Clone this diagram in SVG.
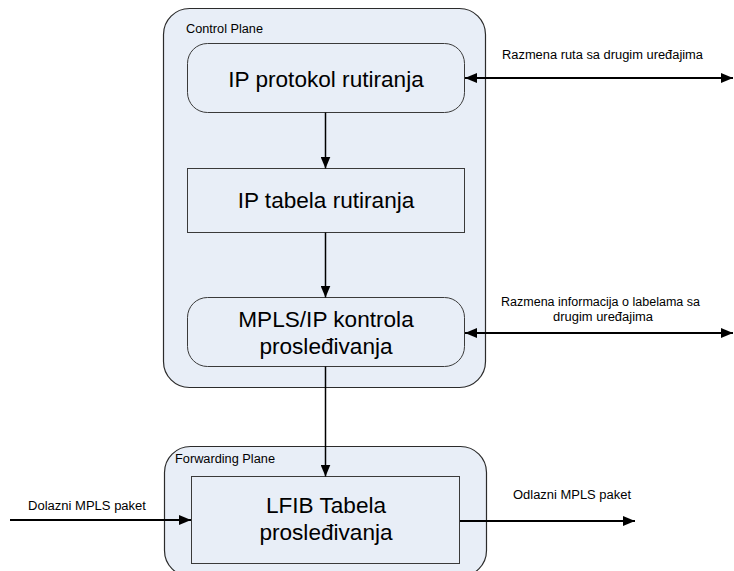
<svg xmlns="http://www.w3.org/2000/svg" width="734" height="571" viewBox="0 0 734 571">
  <defs>
    <style>
      .plane { fill: #e8eef7; stroke: #2b2b2b; stroke-width: 1.2; }
      .box { fill: #e8eef7; stroke: #3a3a3a; stroke-width: 1; }
      .big { font-family: "Liberation Sans", Arial, sans-serif; font-size: 22.6px; fill: #000; text-anchor: middle; }
      .small { font-family: "Liberation Sans", Arial, sans-serif; font-size: 12px; fill: #000; }
      .edge { fill: none; stroke: #000; stroke-width: 1.5; }
      .edge2 { fill: none; stroke: #000; stroke-width: 2; }
    </style>
    <marker id="arrow" viewBox="0 0 12 10" refX="12" refY="5" markerWidth="12" markerHeight="10" markerUnits="userSpaceOnUse" orient="auto-start-reverse">
      <path d="M0,0 L12,5 L0,10 Z" fill="#000"/>
    </marker>
  </defs>

  <!-- Control plane -->
  <g id="control-plane">
    <rect class="plane" x="163.5" y="8.5" width="322" height="379" rx="26" ry="26"/>
    <text class="small" x="186" y="33" textLength="77" lengthAdjust="spacingAndGlyphs">Control Plane</text>
  </g>

  <g id="ip-protokol">
    <rect class="box" x="187.5" y="43.5" width="277" height="69" rx="20" ry="20"/>
    <text class="big" x="326" y="87">IP protokol rutiranja</text>
  </g>

  <g id="ip-tabela">
    <rect class="box" x="187.5" y="168.5" width="277" height="64"/>
    <text class="big" x="326" y="208">IP tabela rutiranja</text>
  </g>

  <g id="mpls-ip">
    <rect class="box" x="187.5" y="297.5" width="277" height="69" rx="20" ry="20"/>
    <text class="big" x="326" y="327">MPLS/IP kontrola</text>
    <text class="big" x="326" y="354">prosleđivanja</text>
  </g>

  <!-- Forwarding plane -->
  <g id="forwarding-plane">
    <rect class="plane" x="164.5" y="446.5" width="322" height="130" rx="26" ry="26"/>
    <text class="small" x="175" y="463" textLength="100" lengthAdjust="spacingAndGlyphs">Forwarding Plane</text>
  </g>

  <g id="lfib">
    <rect class="box" x="191.5" y="476.5" width="268" height="87"/>
    <text class="big" x="326" y="513">LFIB Tabela</text>
    <text class="big" x="326" y="540">prosleđivanja</text>
  </g>

  <!-- Connectors -->
  <g id="connectors">
    <line class="edge" x1="325.5" y1="112.5" x2="325.5" y2="168.5" marker-end="url(#arrow)"/>
    <line class="edge" x1="325.5" y1="232.5" x2="325.5" y2="297.5" marker-end="url(#arrow)"/>
    <line class="edge" x1="325.5" y1="366.5" x2="325.5" y2="476.5" marker-end="url(#arrow)"/>

    <line class="edge2" x1="465" y1="78" x2="733" y2="78" marker-start="url(#arrow)" marker-end="url(#arrow)"/>
    <text class="small" x="502" y="59" textLength="201" lengthAdjust="spacingAndGlyphs">Razmena ruta sa drugim uređajima</text>

    <line class="edge2" x1="465" y1="333" x2="733" y2="333" marker-start="url(#arrow)" marker-end="url(#arrow)"/>
    <text class="small" x="501" y="306" textLength="199" lengthAdjust="spacingAndGlyphs">Razmena informacija o labelama sa</text>
    <text class="small" x="553" y="321" textLength="100" lengthAdjust="spacingAndGlyphs">drugim uređajima</text>

    <line class="edge2" x1="10" y1="520" x2="191" y2="520" marker-end="url(#arrow)"/>
    <text class="small" x="28" y="510" textLength="118" lengthAdjust="spacingAndGlyphs">Dolazni MPLS paket</text>

    <line class="edge2" x1="460" y1="521" x2="635" y2="521" marker-end="url(#arrow)"/>
    <text class="small" x="513" y="499" textLength="118" lengthAdjust="spacingAndGlyphs">Odlazni MPLS paket</text>
  </g>
</svg>
